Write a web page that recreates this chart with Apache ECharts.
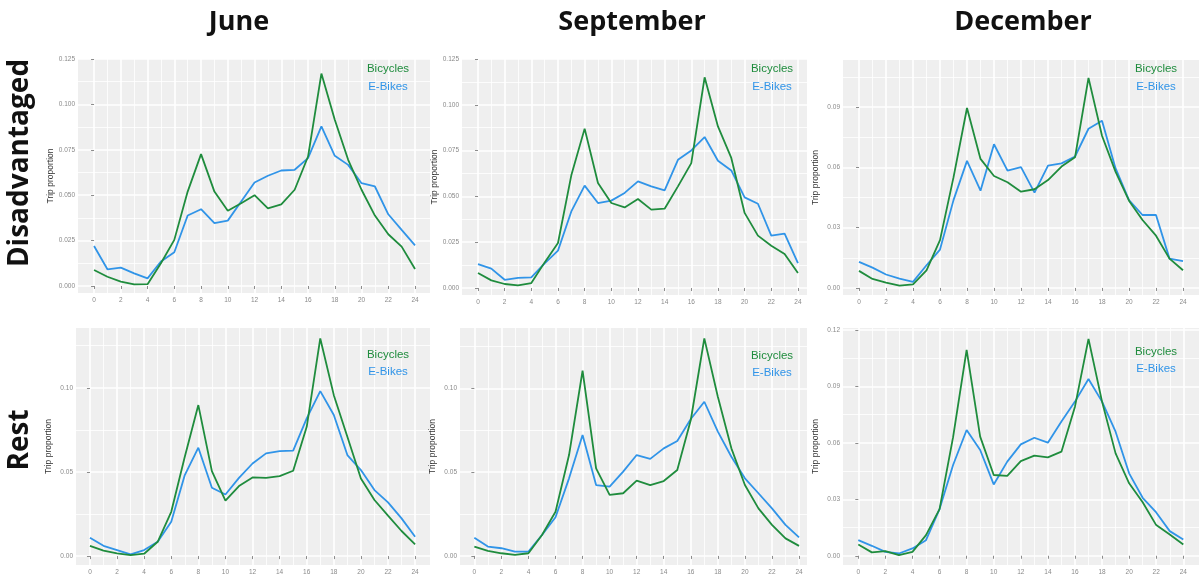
<!DOCTYPE html>
<html>
<head>
<meta charset="utf-8">
<title>Trip proportion by hour</title>
<script src="https://cdn.jsdelivr.net/npm/echarts@6/dist/echarts.min.js"></script>
<style>
  html, body { margin: 0; padding: 0; background: #fff; }
  #main { width: 1199px; height: 586px; }
</style>
</head>
<body>
<div id="main"></div>
<script>
// hours of the day
var hours = [0,1,2,3,4,5,6,7,8,9,10,11,12,13,14,15,16,17,18,19,20,21,22,23,24];
var hourTicks = [0,2,4,6,8,10,12,14,16,18,20,22,24];
var hourMinor = [1,3,5,7,9,11,13,15,17,19,21,23];

var columns = ['June', 'September', 'December'];
var rows = ['Disadvantaged', 'Rest'];
var seriesNames = ['Bicycles', 'E-Bikes'];

// y tick labels per panel type
var yTicks125 = [0, 0.025, 0.05, 0.075, 0.1, 0.125];
var yMinor125 = [0.0125, 0.0375, 0.0625, 0.0875, 0.1125];
var yTicks09 = [0, 0.03, 0.06, 0.09];
var yMinor09 = [0.015, 0.045, 0.075, 0.105];
var yTicks10 = [0, 0.05, 0.1];
var yMinor10 = [0.025, 0.075, 0.125];
var yTicks12 = [0, 0.03, 0.06, 0.09, 0.12];
var yMinor12 = [0.015, 0.045, 0.075, 0.105];

// Disadvantaged
var juneDisBikes = [0.0088,0.0051,0.0024,0.0009,0.0010,0.0125,0.0254,0.0520,0.0726,0.0520,0.0414,0.0456,0.0500,0.0428,0.0449,0.0530,0.0713,0.1170,0.0915,0.0695,0.0530,0.0388,0.0285,0.0217,0.0094];
var juneDisEbikes = [0.0220,0.0092,0.0101,0.0070,0.0042,0.0135,0.0186,0.0388,0.0423,0.0346,0.0360,0.0465,0.0570,0.0607,0.0636,0.0640,0.0704,0.0879,0.0717,0.0667,0.0566,0.0548,0.0395,0.0309,0.0224];
var sepDisBikes = [0.0082,0.0042,0.0022,0.0015,0.0027,0.0140,0.0246,0.0615,0.0870,0.0573,0.0464,0.0440,0.0486,0.0428,0.0433,0.0555,0.0682,0.1150,0.0882,0.0710,0.0410,0.0286,0.0231,0.0186,0.0082];
var sepDisEbikes = [0.0131,0.0106,0.0045,0.0055,0.0058,0.0135,0.0204,0.0418,0.0559,0.0464,0.0477,0.0519,0.0582,0.0555,0.0533,0.0700,0.0751,0.0824,0.0695,0.0642,0.0495,0.0460,0.0286,0.0297,0.0136];
var decDisBikes = [0.0085,0.0045,0.0027,0.0012,0.0018,0.0088,0.0238,0.0550,0.0895,0.0642,0.0557,0.0526,0.0479,0.0491,0.0537,0.0604,0.0650,0.1045,0.0757,0.0579,0.0434,0.0338,0.0260,0.0146,0.0088];
var decDisEbikes = [0.0130,0.0101,0.0067,0.0047,0.0030,0.0113,0.0191,0.0437,0.0632,0.0484,0.0715,0.0584,0.0601,0.0474,0.0609,0.0620,0.0654,0.0792,0.0832,0.0596,0.0437,0.0363,0.0363,0.0146,0.0133];

// Rest
var juneRestBikes = [0.0061,0.0032,0.0016,0.0006,0.0014,0.0085,0.0263,0.0590,0.0897,0.0505,0.0329,0.0416,0.0467,0.0465,0.0475,0.0507,0.0768,0.1293,0.0956,0.0709,0.0461,0.0333,0.0240,0.0149,0.0069];
var juneRestEbikes = [0.0109,0.0061,0.0036,0.0010,0.0036,0.0085,0.0204,0.0481,0.0644,0.0406,0.0366,0.0465,0.0550,0.0610,0.0624,0.0626,0.0818,0.0980,0.0838,0.0600,0.0511,0.0392,0.0319,0.0224,0.0115];
var sepRestBikes = [0.0056,0.0030,0.0016,0.0006,0.0016,0.0125,0.0264,0.0602,0.1105,0.0523,0.0364,0.0374,0.0449,0.0423,0.0447,0.0513,0.0811,0.1298,0.0950,0.0642,0.0423,0.0284,0.0185,0.0105,0.0060];
var sepRestEbikes = [0.0109,0.0056,0.0046,0.0026,0.0026,0.0125,0.0231,0.0463,0.0722,0.0423,0.0414,0.0503,0.0602,0.0579,0.0642,0.0686,0.0817,0.0920,0.0742,0.0592,0.0463,0.0374,0.0284,0.0185,0.0111];
var decRestBikes = [0.0060,0.0018,0.0025,0.0004,0.0021,0.0110,0.0248,0.0630,0.1094,0.0633,0.0429,0.0424,0.0503,0.0532,0.0523,0.0553,0.0792,0.1152,0.0819,0.0544,0.0385,0.0284,0.0163,0.0113,0.0060];
var decRestEbikes = [0.0083,0.0053,0.0021,0.0012,0.0039,0.0083,0.0248,0.0482,0.0668,0.0562,0.0379,0.0500,0.0592,0.0627,0.0601,0.0713,0.0819,0.0939,0.0819,0.0659,0.0438,0.0308,0.0230,0.0131,0.0087];

var green = '#1F8C3D';
var blue = '#3094E8';
var panelBg = '#EFEFEF';

// one entry per panel: where it sits and its axis ranges
var panels = [
    {grid: [78, 59, 352, 234], x: [-1.2, 25.12], y: [-0.00385, 0.125], ticks: yTicks125, minor: yMinor125, dec: 3, b: juneDisBikes, e: juneDisEbikes, leg: [388, 69, 87]},
    {grid: [462, 59, 345, 236], x: [-1.2, 24.68], y: [-0.0038, 0.125], ticks: yTicks125, minor: yMinor125, dec: 3, b: sepDisBikes, e: sepDisEbikes, leg: [772, 69, 87]},
    {grid: [843, 60, 356, 235], x: [-1.185, 25.185], y: [-0.0035, 0.1134], ticks: yTicks09, minor: yMinor09, dec: 2, b: decDisBikes, e: decDisEbikes, leg: [1156, 69, 87]},
    {grid: [76, 328, 354, 237], x: [-1.03, 25.1], y: [-0.0053, 0.1355], ticks: yTicks10, minor: yMinor10, dec: 2, b: juneRestBikes, e: juneRestEbikes, leg: [388, 355, 372]},
    {grid: [460, 328, 347, 237], x: [-1.06, 24.59], y: [-0.0054, 0.136], ticks: yTicks10, minor: yMinor10, dec: 2, b: sepRestBikes, e: sepRestEbikes, leg: [772, 356, 373]},
    {grid: [843, 328, 356, 237], x: [-1.13, 25.16], y: [-0.0049, 0.121], ticks: yTicks12, minor: yMinor12, dec: 2, b: decRestBikes, e: decRestEbikes, leg: [1156, 352, 369]}
];

function pairs(vals) {
    return hours.map(function (h, i) { return [h, vals[i]]; });
}

var grids = [], xAxes = [], yAxes = [], series = [], graphics = [];

panels.forEach(function (p, i) {
    grids.push({
        left: p.grid[0], top: p.grid[1], width: p.grid[2], height: p.grid[3],
        show: true, backgroundColor: panelBg, borderWidth: 0
    });
    // major axis: labels, ticks, major grid lines
    xAxes.push({
        gridIndex: i, type: 'value', min: p.x[0], max: p.x[1],
        axisLine: {show: false},
        axisTick: {show: true, length: 3, customValues: hourTicks, lineStyle: {color: '#8c8c8c', width: 1}},
        axisLabel: {customValues: hourTicks, fontSize: 6.5, color: '#8a8a8a', margin: 4, fontFamily: 'Liberation Sans'},
        splitLine: {show: true, lineStyle: {color: '#ffffff', width: 1.6}}
    });
    // minor grid lines only
    xAxes.push({
        gridIndex: i, type: 'value', min: p.x[0], max: p.x[1],
        axisLine: {show: false},
        axisTick: {show: false, customValues: hourMinor},
        axisLabel: {show: false},
        splitLine: {show: true, lineStyle: {color: '#ffffff', width: 0.8}}
    });
    yAxes.push({
        gridIndex: i, type: 'value', min: p.y[0], max: p.y[1],
        name: 'Trip proportion', nameLocation: 'middle', nameRotate: 90, nameGap: 23,
        nameTextStyle: {fontSize: 8.5, color: '#333', fontFamily: 'Liberation Sans'},
        axisLine: {show: false},
        axisTick: {show: true, length: 3, customValues: p.ticks, lineStyle: {color: '#8c8c8c', width: 1}},
        axisLabel: {
            customValues: p.ticks, fontSize: 6.5, color: '#8a8a8a', margin: 3, fontFamily: 'Liberation Sans',
            formatter: (function (d) { return function (v) { return v.toFixed(d); }; })(p.dec)
        },
        splitLine: {show: true, lineStyle: {color: '#ffffff', width: 1.6}}
    });
    yAxes.push({
        gridIndex: i, type: 'value', min: p.y[0], max: p.y[1],
        axisLine: {show: false},
        axisTick: {show: false, customValues: p.minor},
        axisLabel: {show: false},
        splitLine: {show: true, lineStyle: {color: '#ffffff', width: 0.8}}
    });

    series.push({
        name: seriesNames[0], type: 'line', xAxisIndex: 2 * i, yAxisIndex: 2 * i,
        data: pairs(p.b), showSymbol: false, symbol: 'none', silent: true,
        lineStyle: {color: green, width: 1.8}, itemStyle: {color: green}, z: 3
    });
    series.push({
        name: seriesNames[1], type: 'line', xAxisIndex: 2 * i, yAxisIndex: 2 * i,
        data: pairs(p.e), showSymbol: false, symbol: 'none', silent: true,
        lineStyle: {color: blue, width: 1.8}, itemStyle: {color: blue}, z: 2
    });

    // in-panel legend text
    graphics.push({type: 'text', x: p.leg[0], y: p.leg[1], z: 10,
        style: {text: seriesNames[0], fill: green, font: '11.5px "Liberation Sans"', textAlign: 'center', textVerticalAlign: 'middle'}});
    graphics.push({type: 'text', x: p.leg[0], y: p.leg[2], z: 10,
        style: {text: seriesNames[1], fill: blue, font: '11.5px "Liberation Sans"', textAlign: 'center', textVerticalAlign: 'middle'}});
});

// column and row headings
var colCenters = [239, 632, 1023];
columns.forEach(function (c, i) {
    graphics.push({type: 'text', x: colCenters[i], y: 22, z: 10,
        style: {text: c, fill: '#111', font: 'bold 27px "Open Sans"', textAlign: 'center', textVerticalAlign: 'middle'}});
});
var rowCenters = [163, 440];
rows.forEach(function (r, i) {
    graphics.push({type: 'text', x: 20, y: rowCenters[i], rotation: Math.PI / 2, z: 10,
        style: {text: r, fill: '#111', font: 'bold 28px "Open Sans"', textAlign: 'center', textVerticalAlign: 'middle'}});
});

var myChart = echarts.init(document.getElementById('main'), null, {renderer: 'canvas'});
myChart.setOption({
    animation: false,
    backgroundColor: '#ffffff',
    grid: grids,
    xAxis: xAxes,
    yAxis: yAxes,
    series: series,
    graphic: graphics,
    tooltip: {show: false}
});
</script>
</body>
</html>
